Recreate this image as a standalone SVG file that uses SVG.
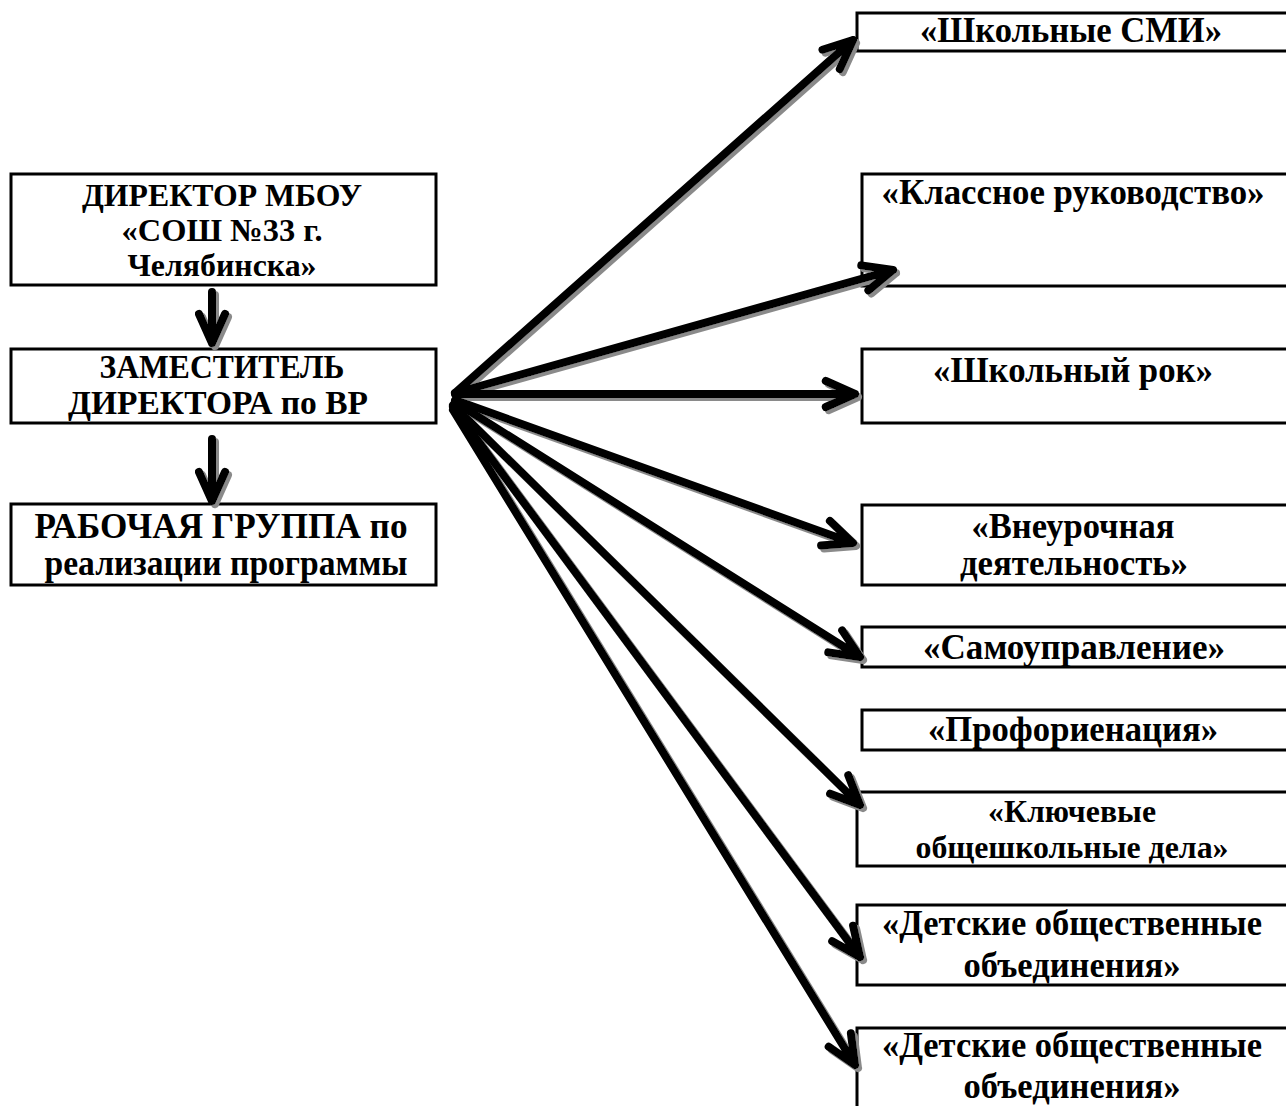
<svg xmlns="http://www.w3.org/2000/svg" width="1286" height="1106" viewBox="0 0 1286 1106">
<defs>
<filter id="sh" x="-10%" y="-10%" width="130%" height="130%">
<feDropShadow dx="3" dy="3" stdDeviation="0.6" flood-color="#8a8a8a" flood-opacity="1"/>
</filter>
<style>
.box{fill:#fff;stroke:#000;stroke-width:3}
.t{font-family:"Liberation Serif","Times New Roman",serif;font-weight:bold;font-size:35px;fill:#000;text-anchor:middle}
.s{font-size:32px}
.m{font-size:33px}
.arr{fill:none;stroke:#000;stroke-width:8;stroke-linecap:round;stroke-linejoin:round}
</style>
</defs>
<rect width="1286" height="1106" fill="#fff"/>
<g id="director">
<rect class="box" x="11" y="174" width="425" height="111"/>
<text class="t s" x="222" y="206" textLength="280" lengthAdjust="spacingAndGlyphs">ДИРЕКТОР МБОУ</text>
<text class="t s" x="222" y="241" textLength="201" lengthAdjust="spacingAndGlyphs">«СОШ №33 г.</text>
<text class="t s" x="222" y="276" textLength="189" lengthAdjust="spacingAndGlyphs">Челябинска»</text>
</g>
<g id="deputy">
<rect class="box" x="11" y="349" width="425" height="74"/>
<text class="t m" x="222" y="378" textLength="245" lengthAdjust="spacingAndGlyphs">ЗАМЕСТИТЕЛЬ</text>
<text class="t m" x="218" y="414" textLength="300" lengthAdjust="spacingAndGlyphs">ДИРЕКТОРА по ВР</text>
</g>
<g id="workgroup">
<rect class="box" x="11" y="504" width="425" height="81"/>
<text class="t" x="221" y="538" textLength="373" lengthAdjust="spacingAndGlyphs">РАБОЧАЯ ГРУППА по</text>
<text class="t" x="226" y="575" textLength="363" lengthAdjust="spacingAndGlyphs">реализации программы</text>
</g>
<g id="smi">
<rect class="box" x="857" y="13" width="440" height="38"/>
<text class="t" x="1071" y="42" textLength="302" lengthAdjust="spacingAndGlyphs">«Школьные СМИ»</text>
</g>
<g id="klass">
<rect class="box" x="862" y="174" width="440" height="112"/>
<text class="t" x="1073" y="204" textLength="383" lengthAdjust="spacingAndGlyphs">«Классное руководство»</text>
</g>
<g id="rock">
<rect class="box" x="862" y="349" width="440" height="74"/>
<text class="t" x="1073" y="382" textLength="280" lengthAdjust="spacingAndGlyphs">«Школьный рок»</text>
</g>
<g id="vneur">
<rect class="box" x="862" y="505" width="440" height="80"/>
<text class="t" x="1073" y="538" textLength="203" lengthAdjust="spacingAndGlyphs">«Внеурочная</text>
<text class="t" x="1074" y="575" textLength="228" lengthAdjust="spacingAndGlyphs">деятельность»</text>
</g>
<g id="samoupr">
<rect class="box" x="862" y="627" width="440" height="40"/>
<text class="t" x="1074" y="659" textLength="302" lengthAdjust="spacingAndGlyphs">«Самоуправление»</text>
</g>
<g id="proforient">
<rect class="box" x="862" y="710" width="440" height="40"/>
<text class="t" x="1073" y="741" textLength="290" lengthAdjust="spacingAndGlyphs">«Профориенация»</text>
</g>
<g id="kluch">
<rect class="box" x="857" y="792" width="440" height="74"/>
<text class="t s" x="1072" y="822" textLength="168" lengthAdjust="spacingAndGlyphs">«Ключевые</text>
<text class="t s" x="1072" y="858" textLength="313" lengthAdjust="spacingAndGlyphs">общешкольные дела»</text>
</g>
<g id="detskie1">
<rect class="box" x="857" y="905" width="440" height="80"/>
<text class="t" x="1072" y="935" textLength="380" lengthAdjust="spacingAndGlyphs">«Детские общественные</text>
<text class="t" x="1072" y="977" textLength="217" lengthAdjust="spacingAndGlyphs">объединения»</text>
</g>
<g id="detskie2">
<rect class="box" x="857" y="1028" width="440" height="100"/>
<text class="t" x="1072" y="1057" textLength="380" lengthAdjust="spacingAndGlyphs">«Детские общественные</text>
<text class="t" x="1072" y="1098" textLength="217" lengthAdjust="spacingAndGlyphs">объединения»</text>
</g>
<g id="connectors" class="arr" filter="url(#sh)">
<path d="M212,292 L212,343 M199,314 L212,343 L225,314"/>
<path d="M212,439 L212,501 M199,472 L212,501 L225,472"/>
<path d="M455,393 L853,40 M822.5,49.7 L853,40 L839.8,69.1"/>
<path d="M455,393 L893,270 M861.3,265.4 L893,270 L868.4,290.4"/>
<path d="M455,394 L855,394 M825.8,381 L855,394 L825.8,407"/>
<path d="M455,400 L853,543 M829.9,520.9 L853,543 L821.1,545.4"/>
<path d="M455,402 L860,657 M842.2,630.4 L860,657 L828.3,652.4"/>
<path d="M453,405 L860,805 M848.3,775.2 L860,805 L830.1,793.7"/>
<path d="M453,407 L860,957 M853.1,925.7 L860,957 L832.2,941.2"/>
<path d="M453,410 L855,1065 M850.9,1033.3 L855,1065 L828.7,1046.8"/>
</g>
</svg>
